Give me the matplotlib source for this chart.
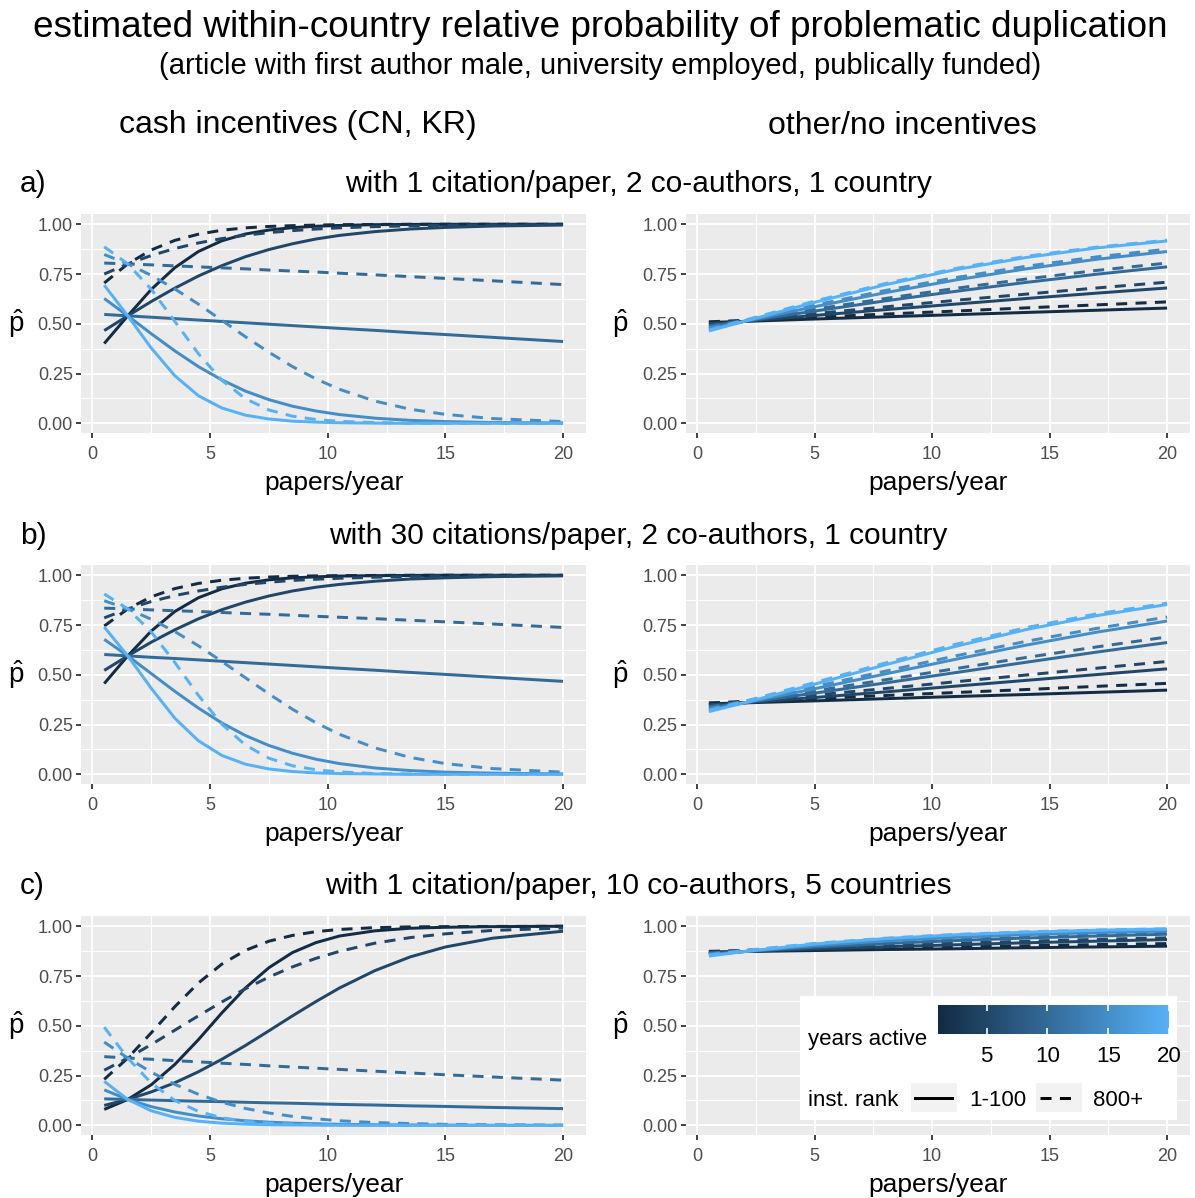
import numpy as np
import matplotlib
matplotlib.use("Agg")
import matplotlib.pyplot as plt
from matplotlib.colors import LinearSegmentedColormap, Normalize
from matplotlib.cm import ScalarMappable
from matplotlib.patches import Rectangle
from matplotlib.lines import Line2D

plt.rcParams['font.family'] = ['Liberation Sans', 'DejaVu Sans']
plt.rcParams['mathtext.fontset'] = 'custom'
plt.rcParams['mathtext.rm'] = 'Liberation Sans'
plt.rcParams['mathtext.it'] = 'Liberation Sans'

# years active of each curve (colour), two institution rank groups (line type)
years_active = [1, 5, 10, 15, 20]
rank_labels = ['1-100', '800+']

papers_cash = [0.5, 1.5, 2.5, 3.5, 4.5, 5.5, 6.5, 7.5, 8.5, 9.5, 10.5, 12, 13.5, 15, 17, 20]
papers_other = [0.5, 2, 5, 8, 11, 14, 17, 20]

# a) 1 citation/paper, 2 co-authors, 1 country
a_cash_top = [
    [0.401, 0.540, 0.673, 0.782, 0.863, 0.917, 0.951, 0.971, 0.983, 0.990, 0.994, 0.998, 0.999, 1.0, 1.0, 1.0],
    [0.466, 0.540, 0.612, 0.679, 0.740, 0.792, 0.837, 0.873, 0.902, 0.926, 0.944, 0.963, 0.976, 0.984, 0.991, 0.996],
    [0.547, 0.540, 0.533, 0.526, 0.519, 0.512, 0.505, 0.498, 0.491, 0.484, 0.477, 0.467, 0.456, 0.446, 0.432, 0.411],
    [0.627, 0.540, 0.450, 0.364, 0.285, 0.218, 0.162, 0.119, 0.086, 0.062, 0.044, 0.026, 0.015, 0.009, 0.004, 0.002],
    [0.694, 0.540, 0.378, 0.239, 0.139, 0.077, 0.041, 0.022, 0.011, 0.006, 0.003, 0.001, 0.0, 0.0, 0.0, 0.0],
]
a_cash_low = [
    [0.705, 0.801, 0.871, 0.919, 0.950, 0.970, 0.982, 0.989, 0.993, 0.996, 0.998, 0.999, 1.0, 1.0, 1.0, 1.0],
    [0.750, 0.801, 0.843, 0.878, 0.906, 0.928, 0.945, 0.958, 0.968, 0.976, 0.982, 0.988, 0.992, 0.995, 0.997, 0.999],
    [0.805, 0.801, 0.796, 0.791, 0.786, 0.781, 0.776, 0.770, 0.765, 0.760, 0.754, 0.746, 0.737, 0.728, 0.716, 0.697],
    [0.848, 0.801, 0.743, 0.675, 0.599, 0.517, 0.435, 0.357, 0.285, 0.223, 0.171, 0.112, 0.071, 0.045, 0.024, 0.009],
    [0.887, 0.801, 0.673, 0.512, 0.350, 0.216, 0.124, 0.067, 0.036, 0.019, 0.010, 0.004, 0.001, 0.0, 0.0, 0.0],
]
a_other_top = [
    [0.507, 0.512, 0.524, 0.535, 0.546, 0.557, 0.568, 0.579],
    [0.498, 0.512, 0.542, 0.571, 0.599, 0.627, 0.654, 0.680],
    [0.487, 0.512, 0.564, 0.615, 0.663, 0.708, 0.749, 0.786],
    [0.475, 0.512, 0.586, 0.656, 0.720, 0.776, 0.824, 0.863],
    [0.464, 0.512, 0.608, 0.696, 0.772, 0.833, 0.881, 0.916],
]
a_other_low = [
    [0.510, 0.517, 0.533, 0.549, 0.564, 0.580, 0.595, 0.610],
    [0.500, 0.517, 0.551, 0.585, 0.618, 0.649, 0.680, 0.709],
    [0.489, 0.517, 0.573, 0.627, 0.678, 0.725, 0.768, 0.805],
    [0.479, 0.517, 0.594, 0.667, 0.732, 0.789, 0.836, 0.875],
    [0.468, 0.517, 0.614, 0.702, 0.778, 0.839, 0.885, 0.920],
]

# b) 30 citations/paper, 2 co-authors, 1 country
b_cash_top = [
    [0.456, 0.595, 0.720, 0.818, 0.887, 0.932, 0.960, 0.977, 0.987, 0.992, 0.996, 0.998, 0.999, 1.0, 1.0, 1.0],
    [0.522, 0.595, 0.664, 0.726, 0.781, 0.827, 0.865, 0.896, 0.921, 0.940, 0.954, 0.970, 0.981, 0.987, 0.993, 0.997],
    [0.602, 0.595, 0.588, 0.582, 0.575, 0.568, 0.561, 0.554, 0.547, 0.540, 0.533, 0.523, 0.512, 0.502, 0.488, 0.467],
    [0.678, 0.595, 0.506, 0.417, 0.333, 0.258, 0.195, 0.145, 0.106, 0.076, 0.054, 0.032, 0.019, 0.011, 0.006, 0.002],
    [0.740, 0.595, 0.432, 0.282, 0.169, 0.095, 0.051, 0.027, 0.014, 0.007, 0.004, 0.002, 0.0, 0.0, 0.0, 0.0],
]
b_cash_low = [
    [0.745, 0.831, 0.892, 0.933, 0.959, 0.975, 0.985, 0.991, 0.995, 0.997, 0.998, 0.999, 1.0, 1.0, 1.0, 1.0],
    [0.786, 0.831, 0.868, 0.898, 0.921, 0.940, 0.954, 0.965, 0.974, 0.980, 0.985, 0.990, 0.994, 0.996, 0.998, 0.999],
    [0.835, 0.831, 0.826, 0.822, 0.818, 0.813, 0.808, 0.804, 0.799, 0.794, 0.789, 0.782, 0.774, 0.766, 0.755, 0.738],
    [0.872, 0.831, 0.779, 0.717, 0.646, 0.567, 0.485, 0.404, 0.327, 0.259, 0.201, 0.133, 0.085, 0.054, 0.029, 0.011],
    [0.906, 0.831, 0.715, 0.562, 0.397, 0.252, 0.147, 0.081, 0.043, 0.023, 0.012, 0.004, 0.002, 0.0, 0.0, 0.0],
]
b_other_top = [
    [0.354, 0.359, 0.369, 0.380, 0.391, 0.401, 0.412, 0.423],
    [0.346, 0.359, 0.386, 0.414, 0.443, 0.472, 0.501, 0.530],
    [0.335, 0.359, 0.408, 0.459, 0.511, 0.563, 0.614, 0.662],
    [0.325, 0.359, 0.430, 0.504, 0.578, 0.649, 0.714, 0.770],
    [0.315, 0.359, 0.453, 0.550, 0.643, 0.727, 0.797, 0.853],
]
b_other_low = [
    [0.359, 0.366, 0.381, 0.396, 0.411, 0.426, 0.442, 0.457],
    [0.350, 0.366, 0.398, 0.431, 0.465, 0.499, 0.533, 0.567],
    [0.340, 0.366, 0.419, 0.475, 0.531, 0.587, 0.640, 0.690],
    [0.330, 0.366, 0.441, 0.518, 0.595, 0.668, 0.733, 0.790],
    [0.321, 0.366, 0.461, 0.559, 0.653, 0.737, 0.806, 0.860],
]

# c) 1 citation/paper, 10 co-authors, 5 countries
c_cash_top = [
    [0.080, 0.130, 0.204, 0.306, 0.430, 0.565, 0.690, 0.792, 0.868, 0.918, 0.951, 0.977, 0.990, 0.995, 0.998, 1.0],
    [0.100, 0.130, 0.168, 0.214, 0.269, 0.332, 0.401, 0.475, 0.550, 0.622, 0.690, 0.777, 0.846, 0.896, 0.940, 0.975],
    [0.133, 0.130, 0.127, 0.124, 0.121, 0.119, 0.116, 0.113, 0.111, 0.108, 0.105, 0.102, 0.098, 0.095, 0.090, 0.084],
    [0.178, 0.130, 0.094, 0.067, 0.047, 0.033, 0.023, 0.016, 0.011, 0.008, 0.005, 0.003, 0.002, 0.001, 0.0, 0.0],
    [0.221, 0.130, 0.073, 0.040, 0.021, 0.011, 0.006, 0.003, 0.002, 0.001, 0.0, 0.0, 0.0, 0.0, 0.0, 0.0],
]
c_cash_low = [
    [0.231, 0.338, 0.465, 0.596, 0.715, 0.810, 0.879, 0.925, 0.954, 0.973, 0.984, 0.993, 0.997, 0.998, 0.999, 1.0],
    [0.277, 0.338, 0.406, 0.478, 0.550, 0.620, 0.686, 0.745, 0.796, 0.839, 0.874, 0.915, 0.943, 0.962, 0.979, 0.991],
    [0.345, 0.338, 0.332, 0.325, 0.319, 0.312, 0.306, 0.299, 0.293, 0.287, 0.281, 0.272, 0.263, 0.254, 0.243, 0.227],
    [0.418, 0.338, 0.267, 0.206, 0.156, 0.116, 0.085, 0.062, 0.045, 0.033, 0.023, 0.014, 0.009, 0.005, 0.003, 0.001],
    [0.493, 0.338, 0.212, 0.125, 0.070, 0.038, 0.020, 0.011, 0.006, 0.003, 0.002, 0.0, 0.0, 0.0, 0.0, 0.0],
]
c_other_top = [
    [0.871, 0.873, 0.878, 0.883, 0.887, 0.892, 0.896, 0.900],
    [0.867, 0.873, 0.886, 0.897, 0.907, 0.917, 0.925, 0.933],
    [0.861, 0.873, 0.895, 0.913, 0.928, 0.941, 0.951, 0.960],
    [0.856, 0.873, 0.903, 0.926, 0.944, 0.958, 0.968, 0.976],
    [0.850, 0.873, 0.911, 0.938, 0.957, 0.970, 0.980, 0.986],
]
c_other_low = [
    [0.874, 0.878, 0.884, 0.891, 0.897, 0.902, 0.908, 0.913],
    [0.870, 0.878, 0.892, 0.904, 0.915, 0.925, 0.934, 0.942],
    [0.865, 0.878, 0.900, 0.918, 0.934, 0.946, 0.957, 0.965],
    [0.860, 0.878, 0.907, 0.930, 0.948, 0.961, 0.972, 0.979],
    [0.855, 0.878, 0.914, 0.940, 0.959, 0.972, 0.981, 0.987],
]

row_tags = ['a)', 'b)', 'c)']
row_titles = ['with 1 citation/paper, 2 co-authors, 1 country',
              'with 30 citations/paper, 2 co-authors, 1 country',
              'with 1 citation/paper, 10 co-authors, 5 countries']
col_titles = ['cash incentives (CN, KR)', 'other/no incentives']

W, H = 1195, 1198
fig = plt.figure(figsize=(W / 100, H / 100), dpi=100)

cmap = LinearSegmentedColormap.from_list('years', ['#132B43', '#56B1F7'])
norm = Normalize(1, 20)
dash = (0, (3.7, 2.8))
LW = 2.15


def style(ax):
    ax.set_facecolor('#EBEBEB')
    ax.set_xlim(-0.475, 20.975)
    ax.set_ylim(-0.05, 1.05)
    ax.set_xticks([0, 5, 10, 15, 20])
    ax.set_xticks([2.5, 7.5, 12.5, 17.5], minor=True)
    ax.set_yticks([0, 0.25, 0.5, 0.75, 1.0])
    ax.set_yticklabels(['0.00', '0.25', '0.50', '0.75', '1.00'])
    ax.set_yticks([0.125, 0.375, 0.625, 0.875], minor=True)
    ax.grid(which='major', color='white', lw=1.35)
    ax.grid(which='minor', color='white', lw=0.7)
    ax.set_axisbelow(True)
    for s in ax.spines.values():
        s.set_visible(False)
    ax.tick_params(which='major', length=3.6, width=1.3, color='#333333',
                   labelcolor='#4D4D4D', labelsize=13)
    ax.tick_params(axis='x', pad=5.5)
    ax.tick_params(axis='y', pad=2.5)
    ax.tick_params(which='minor', length=0)
    ax.set_xlabel('papers/year', fontsize=19, va='center')
    ax.xaxis.set_label_coords(0.5, -50 / 219)
    ax.set_ylabel(r'$\hat{\mathrm{p}}$', fontsize=20, rotation=0, ha='center', va='center')
    ax.yaxis.set_label_coords(-0.13, 0.5)


panels = [
    (a_cash_top, a_cash_low, a_other_top, a_other_low),
    (b_cash_top, b_cash_low, b_other_top, b_other_low),
    (c_cash_top, c_cash_low, c_other_top, c_other_low),
]
row_bottom = [1 - 433.3 / H, 1 - 784.3 / H, 1 - 1135.3 / H]
row_text_y = [1 - 184.5 / H, 1 - 535.5 / H, 1 - 886.5 / H]
ax_h = 219 / H

for r, (cash_top, cash_low, other_top, other_low) in enumerate(panels):
    ax_l = fig.add_axes([81.3 / W, row_bottom[r], 504.7 / W, ax_h])
    ax_r = fig.add_axes([686 / W, row_bottom[r], 504 / W, ax_h])
    for ax, xs, top, low in [(ax_l, papers_cash, cash_top, cash_low),
                             (ax_r, papers_other, other_top, other_low)]:
        style(ax)
        for i, y in enumerate(years_active):
            col = cmap(norm(y))
            ax.plot(xs, top[i], color=col, lw=LW, solid_capstyle='butt')
            ax.plot(xs, low[i], color=col, lw=LW, ls=dash, dash_capstyle='butt')
    fig.text(20 / W, row_text_y[r], row_tags[r], fontsize=21.5, ha='left', va='center')
    fig.text(638 / W, row_text_y[r], row_titles[r], fontsize=21.5, ha='center', va='center')

fig.text(600 / W, 1 - 27.5 / H,
         'estimated within-country relative probability of problematic duplication',
         fontsize=26.6, ha='center', va='center')
fig.text(600 / W, 1 - 66.5 / H,
         '(article with first author male, university employed, publically funded)',
         fontsize=21, ha='center', va='center')
fig.text(297.5 / W, 1 - 125.5 / H, col_titles[0], fontsize=23, ha='center', va='center')
fig.text(902.5 / W, 1 - 125.5 / H, col_titles[1], fontsize=23, ha='center', va='center')

# legend inside the bottom right panel
fig.add_artist(Rectangle((800 / W, 1 - 1120 / H), 377 / W, 124 / H,
                         transform=fig.transFigure, facecolor='white', edgecolor='none', zorder=2))
cax = fig.add_axes([938 / W, 1 - 1034 / H, 231 / W, 29 / H])
cax.set_zorder(5)
cb = fig.colorbar(ScalarMappable(norm=norm, cmap=cmap), cax=cax, orientation='horizontal',
                  ticks=[5, 10, 15, 20])
cb.outline.set_visible(False)
cb.minorticks_off()
cax.xaxis.set_ticks_position('both')
cax.xaxis.set_label_position('bottom')
cax.tick_params(which='major', direction='in', length=4.2, width=1.2, color='white',
                labelsize=16, pad=9, labelcolor='black', labeltop=False, labelbottom=True)
fig.text(808 / W, 1 - 1039 / H, 'years active', fontsize=16, ha='left', va='center', zorder=3)
fig.text(808 / W, 1 - 1100 / H, 'inst. rank', fontsize=16, ha='left', va='center', zorder=3)
for kx, style_ls in [(911, '-'), (1036, dash)]:
    fig.add_artist(Rectangle((kx / W, 1 - 1112 / H), 46 / W, 29 / H, transform=fig.transFigure,
                             facecolor='#F2F2F2', edgecolor='none', zorder=3))
    fig.add_artist(Line2D([(kx + 4) / W, (kx + 41) / W], [1 - 1098 / H, 1 - 1098 / H],
                          transform=fig.transFigure, color='black', lw=LW, ls=style_ls,
                          dash_capstyle='butt', zorder=4))
fig.text(969 / W, 1 - 1100 / H, rank_labels[0], fontsize=16, ha='left', va='center', zorder=4)
fig.text(1093 / W, 1 - 1100 / H, rank_labels[1], fontsize=16, ha='left', va='center', zorder=4)

fig.savefig('out.png', dpi=100, facecolor='white')
